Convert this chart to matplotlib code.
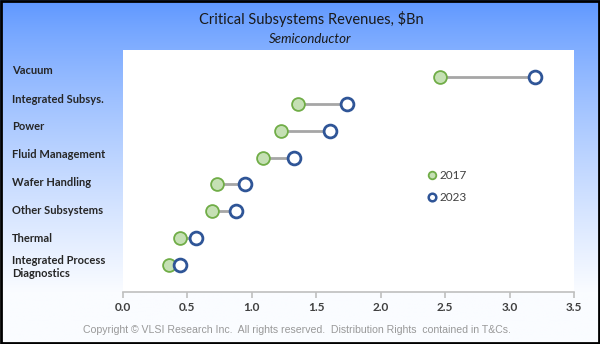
import matplotlib
matplotlib.use("Agg")
import matplotlib.pyplot as plt
import numpy as np

categories = ["Vacuum", "Integrated Subsys.", "Power", "Fluid Management",
              "Wafer Handling", "Other Subsystems", "Thermal",
              "Integrated Process\nDiagnostics"]
rev_2017 = [2.46, 1.36, 1.23, 1.09, 0.73, 0.69, 0.44, 0.36]
rev_2023 = [3.20, 1.74, 1.61, 1.33, 0.95, 0.88, 0.57, 0.44]
xticks = [0.0, 0.5, 1.0, 1.5, 2.0, 2.5, 3.0, 3.5]

plt.rcParams['font.family'] = ['Lato', 'DejaVu Sans']

W, H = 600, 344
fig = plt.figure(figsize=(W / 100, H / 100), dpi=100)

# blue-to-white gradient background
bg = fig.add_axes([0, 0, 1, 1], zorder=-10)
g = np.linspace(0, 1, 256)[:, None]
top = np.array([92, 150, 255]) / 255.0
bot = np.array([250, 252, 255]) / 255.0
t = np.clip(g / 0.85, 0, 1) ** 0.8
img = top * (1 - t)[..., None] + bot * t[..., None]
img = np.repeat(img, 2, axis=1)
bg.imshow(img, aspect='auto', extent=[0, 1, 0, 1], origin='upper')
bg.set_axis_off()
bg.add_patch(plt.Rectangle((0.002, 0.003), 0.996, 0.994, fill=False,
                           edgecolor='black', lw=2, transform=bg.transAxes))

ax = fig.add_axes([123 / W, 1 - 292 / H, (574 - 123) / W, (292 - 50) / H])
ax.set_facecolor('white')

n = len(categories)
ypos = np.arange(n, 0, -1)

for y, a, b in zip(ypos, rev_2017, rev_2023):
    ax.plot([a, b], [y, y], color='#a6a6a6', lw=2, zorder=1)
ax.scatter(rev_2017, ypos, s=85, facecolor='#c5e0b4', edgecolor='#70ad47',
           linewidth=1.3, zorder=3)
ax.scatter(rev_2023, ypos, s=85, facecolor='white', edgecolor='#2f5597',
           linewidth=2, zorder=3)

ax.set_xlim(0, 3.5)
ax.set_ylim(0, 9)
ax.set_xticks(xticks)
ax.set_xticklabels([f"{v:.1f}" for v in xticks], fontsize=8.5,
                   fontweight='bold', color='#404040')
ax.set_yticks([])
for s in ['top', 'right', 'left']:
    ax.spines[s].set_visible(False)
ax.spines['bottom'].set_color('#bfbfbf')
ax.spines['bottom'].set_linewidth(1.2)
ax.tick_params(axis='x', length=4, color='#bfbfbf', width=1.2, pad=3)

# category labels in the left margin, on their own row pitch
for i, name in enumerate(categories):
    ypix = 71 + i * 28.0
    fig.text(12 / W, 1 - ypix / H, name, ha='left', va='center',
             fontsize=8, fontweight='bold', color='#262626',
             linespacing=1.25)

# legend entries
ax.scatter([2.4], [4.35], s=30, facecolor='#c5e0b4', edgecolor='#70ad47',
           linewidth=1.3, zorder=3)
ax.text(2.46, 4.35, "2017", va='center', fontsize=8.5, color='#404040')
ax.scatter([2.4], [3.53], s=30, facecolor='white', edgecolor='#2f5597',
           linewidth=1.8, zorder=3)
ax.text(2.46, 3.53, "2023", va='center', fontsize=8.5, color='#404040')

fig.text(311 / W, 1 - 19 / H, "Critical Subsystems Revenues, $Bn",
         ha='center', va='center', fontsize=10.5, color='#1a1a1a')
fig.text(310 / W, 1 - 39 / H, "Semiconductor", ha='center', va='center',
         fontsize=9.5, style='italic', color='#1a1a1a')
fig.text(297 / W, 1 - 330 / H,
         "Copyright \u00a9 VLSI Research Inc.  All rights reserved.  Distribution Rights  contained in T&Cs.",
         ha='center', va='center', fontsize=7.6, color='#999999',
         family=['Liberation Sans', 'DejaVu Sans'])

fig.savefig("out.png", dpi=100)
